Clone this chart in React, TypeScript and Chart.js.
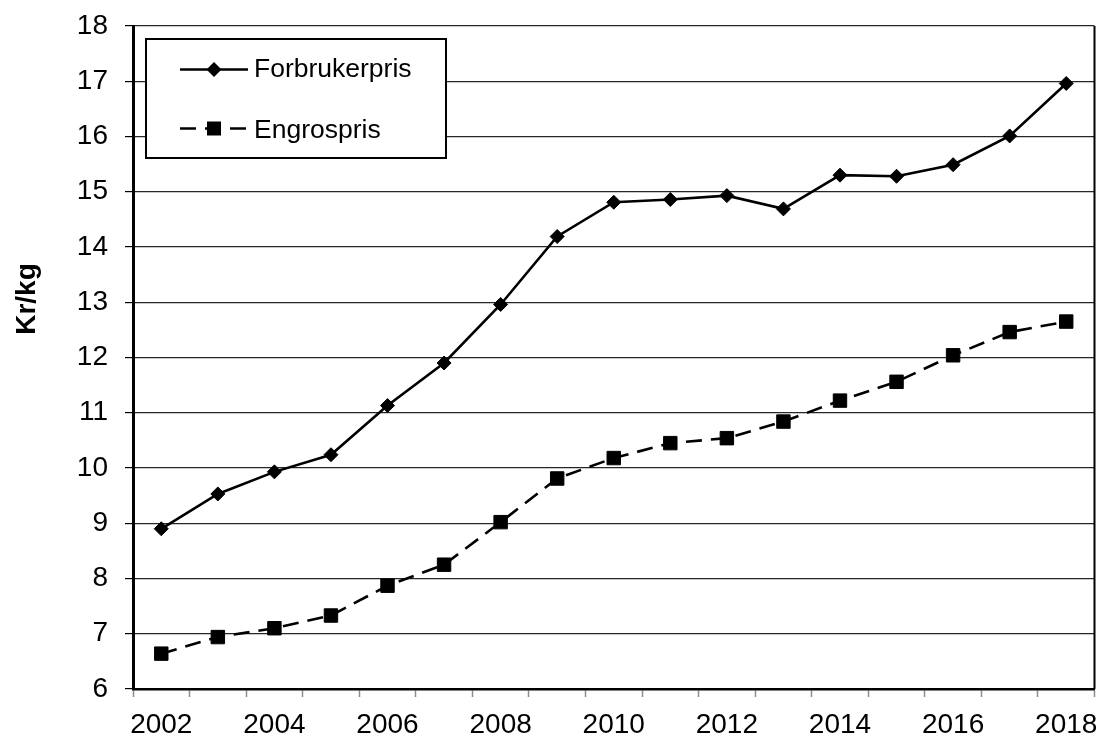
import React, { useEffect, useRef } from 'react';
import { Chart, registerables } from 'chart.js';

Chart.register(...registerables);

// Price per kg, yearly
const years = ['2002', '2003', '2004', '2005', '2006', '2007', '2008', '2009', '2010', '2011', '2012', '2013', '2014', '2015', '2016', '2017', '2018'];
const forbrukerpris = [8.9, 9.53, 9.93, 10.24, 11.13, 11.9, 12.96, 14.19, 14.81, 14.86, 14.93, 14.69, 15.3, 15.28, 15.49, 16.01, 16.96];
const engrospris = [6.64, 6.94, 7.1, 7.33, 7.87, 8.25, 9.02, 9.81, 10.18, 10.45, 10.54, 10.84, 11.22, 11.56, 12.04, 12.46, 12.65];
const seriesNames = ['Forbrukerpris', 'Engrospris'];
const yAxisTitle = 'Kr/kg';
const yMin = 6;
const yMax = 18;
const yStep = 1;

const FONT = "'Liberation Sans', Arial, sans-serif";
const W = 1105;
const H = 738;
const DASH = [16, 9];
const LINE_W = 2.6;

// Draws the plot frame on the right, the rotated axis title and the boxed legend
const decorPlugin = {
  id: 'decor',
  afterDatasetsDraw(chart: any) {
    const { ctx, chartArea: a } = chart;
    ctx.save();

    // right frame line
    ctx.strokeStyle = '#000';
    ctx.lineWidth = 2;
    ctx.beginPath();
    ctx.moveTo(a.right, a.top);
    ctx.lineTo(a.right, a.bottom);
    ctx.stroke();

    // y-axis title
    ctx.save();
    ctx.translate(35, 299);
    ctx.rotate(-Math.PI / 2);
    ctx.font = `bold 28px ${FONT}`;
    ctx.fillStyle = '#000';
    ctx.textAlign = 'center';
    ctx.textBaseline = 'alphabetic';
    ctx.fillText(yAxisTitle, 0, 0);
    ctx.restore();

    // legend box
    const bx = 146, by = 39, bw = 300, bh = 119;
    ctx.fillStyle = '#fff';
    ctx.fillRect(bx, by, bw, bh);
    ctx.strokeStyle = '#000';
    ctx.lineWidth = 2;
    ctx.strokeRect(bx, by, bw, bh);

    const rows = [
      { y: 69.5, dash: [] as number[], marker: 'diamond' },
      { y: 128.5, dash: DASH, marker: 'square' },
    ];
    rows.forEach((r, i) => {
      ctx.strokeStyle = '#000';
      ctx.lineWidth = LINE_W;
      ctx.setLineDash(r.dash);
      ctx.beginPath();
      ctx.moveTo(180, r.y);
      ctx.lineTo(248, r.y);
      ctx.stroke();
      ctx.setLineDash([]);
      ctx.fillStyle = '#000';
      ctx.beginPath();
      const cx = 214;
      if (r.marker === 'diamond') {
        ctx.moveTo(cx - 7.5, r.y);
        ctx.lineTo(cx, r.y - 7.5);
        ctx.lineTo(cx + 7.5, r.y);
        ctx.lineTo(cx, r.y + 7.5);
        ctx.closePath();
      } else {
        ctx.rect(cx - 7, r.y - 7, 14, 14);
      }
      ctx.fill();

      ctx.font = `26.5px ${FONT}`;
      ctx.textAlign = 'left';
      ctx.textBaseline = 'alphabetic';
      ctx.fillText(seriesNames[i], 254, i === 0 ? 77 : 137.5);
    });

    ctx.restore();
  },
};

export default function App() {
  const canvasRef = useRef<HTMLCanvasElement | null>(null);

  useEffect(() => {
    const canvas = canvasRef.current;
    if (!canvas) return;
    const chart = new Chart(canvas, {
      type: 'line',
      data: {
        labels: years,
        datasets: [
          {
            label: seriesNames[0],
            data: forbrukerpris,
            borderColor: '#000',
            backgroundColor: '#000',
            borderWidth: LINE_W,
            pointStyle: 'rectRot',
            pointRadius: 7,
            pointBorderWidth: 1,
            pointBackgroundColor: '#000',
            pointBorderColor: '#000',
            tension: 0,
            fill: false,
          },
          {
            label: seriesNames[1],
            data: engrospris,
            borderColor: '#000',
            backgroundColor: '#000',
            borderWidth: LINE_W,
            borderDash: DASH,
            pointStyle: 'rect',
            pointRadius: 9.5,
            pointBorderWidth: 1,
            pointBackgroundColor: '#000',
            pointBorderColor: '#000',
            tension: 0,
            fill: false,
          },
        ],
      },
      options: {
        responsive: false,
        animation: false,
        events: [],
        layout: { padding: { top: 26, right: 8, left: 0, bottom: 0 } },
        plugins: {
          legend: { display: false },
          tooltip: { enabled: false },
        },
        scales: {
          x: {
            type: 'category',
            offset: true,
            grid: {
              offset: true,
              drawOnChartArea: false,
              drawTicks: true,
              tickLength: 8,
              tickColor: '#8c8c8c',
              tickWidth: 1.5,
            },
            border: { display: true, color: '#000', width: 2.5 },
            ticks: {
              autoSkip: false,
              maxRotation: 0,
              minRotation: 0,
              padding: 11,
              color: '#000',
              font: { family: FONT, size: 28 },
              callback: (_v: any, i: number) => (i % 2 === 0 ? years[i] : ''),
            },
            afterFit: (s: any) => {
              s.height = 49;
              s.paddingLeft = 0;
              s.paddingRight = 0;
            },
          },
          y: {
            min: yMin,
            max: yMax,
            ticks: {
              stepSize: yStep,
              padding: 17,
              color: '#000',
              font: { family: FONT, size: 28 },
            },
            grid: {
              color: '#262626',
              lineWidth: 1.2,
              drawTicks: true,
              tickLength: 8,
              tickColor: '#000',
              tickWidth: 1.2,
            },
            border: { display: true, color: '#000', width: 3 },
            afterFit: (s: any) => {
              s.width = 133;
              s.paddingTop = 0;
              s.paddingBottom = 0;
            },
          },
        },
      },
      plugins: [decorPlugin],
    } as any);
    return () => chart.destroy();
  }, []);

  return (
    <div style={{ position: 'absolute', left: 0, top: 0, width: W, height: H, background: '#fff' }}>
      <canvas ref={canvasRef} width={W} height={H} style={{ display: 'block', width: W, height: H }} />
    </div>
  );
}
